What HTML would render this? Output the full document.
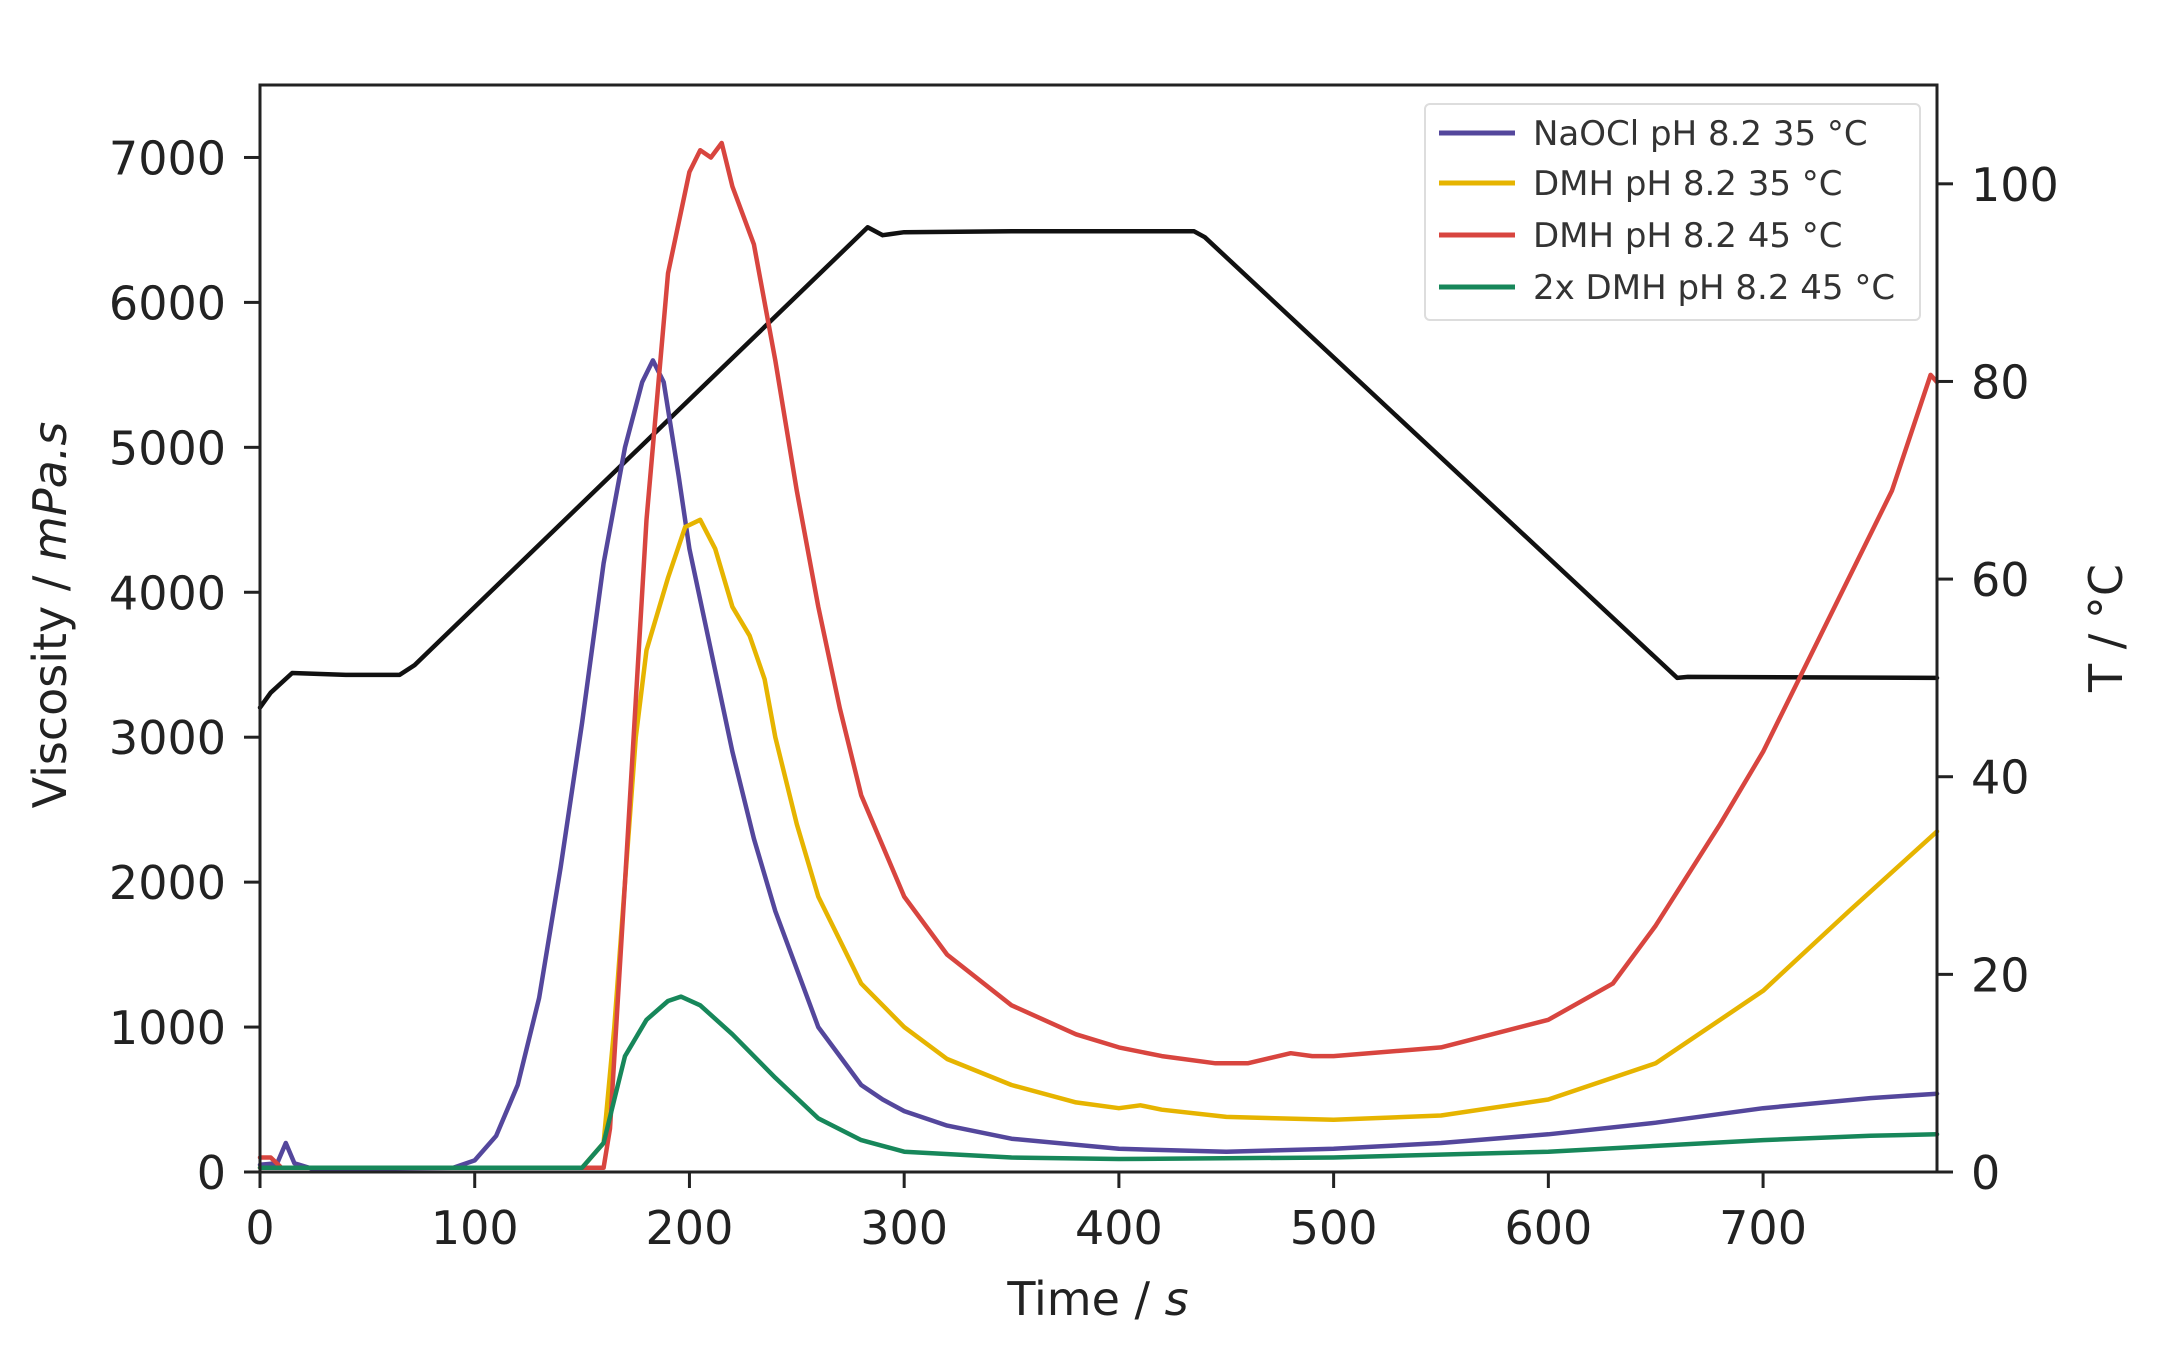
<!DOCTYPE html>
<html><head><meta charset="utf-8"><style>
html,body{margin:0;padding:0;background:#fff;}
svg{display:block;font-family:"DejaVu Sans","Liberation Sans",sans-serif;}
</style></head><body>
<svg id="chart" width="2164" height="1353" viewBox="0 0 2164 1353" xmlns="http://www.w3.org/2000/svg">
<rect x="0" y="0" width="2164" height="1353" fill="#fff"/>
<g id="plot"></g>
<g id="axes"></g>
<text transform="translate(66,615) rotate(-90)" text-anchor="middle" font-size="46" fill="#222">Viscosity / <tspan font-style="italic">mPa.s</tspan></text>
<text transform="translate(2122,628) rotate(-90)" text-anchor="middle" font-size="46" fill="#222">T / °C</text>
<text x="1098" y="1315" text-anchor="middle" font-size="46" fill="#222">Time / <tspan font-style="italic">s</tspan></text>
<g>
<rect x="1425" y="104" width="495" height="216" rx="5" fill="#fff" fill-opacity="0.85" stroke="#ddd" stroke-width="2"/>
<line x1="1439" y1="133" x2="1515" y2="133" stroke="#54479c" stroke-width="5"/>
<text x="1533" y="145" font-size="34" fill="#333">NaOCl pH 8.2 35 °C</text>
<line x1="1439" y1="183" x2="1515" y2="183" stroke="#e6b400" stroke-width="5"/>
<text x="1533" y="195" font-size="34" fill="#333">DMH pH 8.2 35 °C</text>
<line x1="1439" y1="235" x2="1515" y2="235" stroke="#d8453f" stroke-width="5"/>
<text x="1533" y="247" font-size="34" fill="#333">DMH pH 8.2 45 °C</text>
<line x1="1439" y1="287" x2="1515" y2="287" stroke="#17875a" stroke-width="5"/>
<text x="1533" y="299" font-size="34" fill="#333">2x DMH pH 8.2 45 °C</text>
</g>
</svg>
<script>
const xTicks=[0,100,200,300,400,500,600,700];
const yTicks=[0,1000,2000,3000,4000,5000,6000,7000];
const y2Ticks=[0,20,40,60,80,100];
const tempT=[0,5,15,40,65,72,283,290,300,350,435,440,660,665,781];
const tempV=[47,48.5,50.5,50.3,50.3,51.3,95.6,94.8,95.1,95.2,95.2,94.6,50,50.1,50];
const naoclT=[0,8,12,16,25,90,100,110,120,130,140,150,160,170,178,183,188,195,200,210,220,230,240,250,260,270,280,290,300,320,350,400,450,500,550,600,650,700,750,781];
const naoclV=[50,60,200,60,20,30,80,250,600,1200,2100,3100,4200,5000,5450,5600,5450,4800,4300,3600,2900,2300,1800,1400,1000,800,600,500,420,320,230,160,140,160,200,260,340,440,510,540];
const dmh35T=[0,150,160,165,170,175,180,190,198,205,212,220,228,235,240,250,260,270,280,300,320,350,380,400,410,420,450,500,550,600,650,700,740,781];
const dmh35V=[30,30,200,1000,2000,3000,3600,4100,4450,4500,4300,3900,3700,3400,3000,2400,1900,1600,1300,1000,780,600,480,440,460,430,380,360,390,500,750,1250,1800,2350];
const dmh45T=[0,5,10,160,163,170,180,190,200,205,210,215,220,230,240,250,260,270,280,300,320,350,380,400,420,445,460,480,490,500,550,600,630,650,680,700,730,760,778,781];
const dmh45V=[100,100,30,30,300,2000,4500,6200,6900,7050,7000,7100,6800,6400,5600,4700,3900,3200,2600,1900,1500,1150,950,860,800,750,750,820,800,800,860,1050,1300,1700,2400,2900,3800,4700,5500,5450];
const greenT=[0,150,160,165,170,180,190,196,205,220,240,260,280,300,350,400,500,600,650,700,750,781];
const greenV=[30,30,200,500,800,1050,1180,1210,1150,950,650,370,220,140,100,90,100,140,180,220,250,260];

const L=260,R=1937,T=85,B=1172,XMAX=781,YMAX=7500,Y2MAX=110;
const sx=t=>L+t*(R-L)/XMAX;
const sy=v=>B-v*(B-T)/YMAX;
const sy2=v=>B-v*(B-T)/Y2MAX;
const NS='http://www.w3.org/2000/svg';
const plot=document.getElementById('plot'), axes=document.getElementById('axes');
function mk(tag,attrs,parent){const e=document.createElementNS(NS,tag);for(const k in attrs)e.setAttribute(k,attrs[k]);parent.appendChild(e);return e;}
function line(ts,vs,scale,color,name){
  const d=ts.map((t,i)=>(i?'L':'M')+sx(t).toFixed(1)+','+scale(vs[i]).toFixed(1)).join(' ');
  const p=mk('path',{d:d,fill:'none',stroke:color,'stroke-width':4.5,'stroke-linejoin':'round','stroke-linecap':'round'},plot);
  
  
}
line(tempT,tempV,sy2,'#111','temperature-line');
line(naoclT,naoclV,sy,'#54479c','naocl-35-line');
line(dmh35T,dmh35V,sy,'#e6b400','dmh-35-line');
line(dmh45T,dmh45V,sy,'#d8453f','dmh-45-line');
line(greenT,greenV,sy,'#17875a','2x-dmh-45-line');

const frame=mk('rect',{x:L,y:T,width:R-L,height:B-T,fill:'none',stroke:'#222','stroke-width':3},axes);


xTicks.forEach(t=>{
  mk('line',{x1:sx(t),y1:B,x2:sx(t),y2:B+16,stroke:'#222','stroke-width':3},axes);
  const tx=mk('text',{x:sx(t),y:B+72,'text-anchor':'middle','font-size':46,fill:'#222'},axes);
  tx.textContent=t;
  
  
});
yTicks.forEach(v=>{
  mk('line',{x1:L-16,y1:sy(v),x2:L,y2:sy(v),stroke:'#222','stroke-width':3},axes);
  const tx=mk('text',{x:L-34,y:sy(v)+17,'text-anchor':'end','font-size':46,fill:'#222'},axes);
  tx.textContent=v;
  
  
});
y2Ticks.forEach(v=>{
  mk('line',{x1:R,y1:sy2(v),x2:R+16,y2:sy2(v),stroke:'#222','stroke-width':3},axes);
  const tx=mk('text',{x:R+34,y:sy2(v)+17,'text-anchor':'start','font-size':46,fill:'#222'},axes);
  tx.textContent=v;
  
  
});
</script>
</body></html>
